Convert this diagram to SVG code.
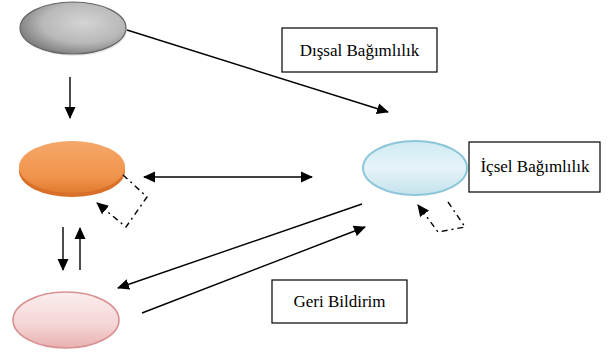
<svg xmlns="http://www.w3.org/2000/svg" width="610" height="355" viewBox="0 0 610 355">
<defs>
<radialGradient id="gGray" cx="0.6" cy="0.4" r="0.65">
<stop offset="0" stop-color="#d4d4d4"/><stop offset="0.6" stop-color="#b8b8b8"/><stop offset="1" stop-color="#7a7a7a"/>
</radialGradient>
<linearGradient id="gOrange" x1="0" y1="0" x2="0" y2="1">
<stop offset="0" stop-color="#f4a86a"/><stop offset="0.7" stop-color="#f0934a"/><stop offset="1" stop-color="#e07a30"/>
</linearGradient>
<linearGradient id="gPink" x1="0" y1="0" x2="0" y2="1">
<stop offset="0" stop-color="#fbeeee"/><stop offset="0.6" stop-color="#f4d4d4"/><stop offset="1" stop-color="#e8b0b0"/>
</linearGradient>
<linearGradient id="gBlue" x1="0" y1="0" x2="0" y2="1">
<stop offset="0" stop-color="#cfeaf3"/><stop offset="0.5" stop-color="#e6f4f9"/><stop offset="1" stop-color="#c4e2ec"/>
</linearGradient>
<marker id="ah" viewBox="0 0 12 12" refX="11" refY="6" markerWidth="12" markerHeight="12" markerUnits="userSpaceOnUse" orient="auto-start-reverse">
<path d="M0,0.5 L12,6 L0,11.5 z" fill="#000"/>
</marker>
<style>
.ln{stroke:#000;stroke-width:1.4;fill:none}
.dash{stroke:#000;stroke-width:1.4;fill:none;stroke-dasharray:6 4 2 4}
.box{fill:#fff;stroke:#000;stroke-width:1.2}
.lbl{font-size:17px;fill:#000;text-anchor:middle}
</style>
</defs>
<g id="node-gray">
<ellipse cx="74" cy="30" rx="53" ry="26" fill="#d8d8d8" opacity="0.5"/>
<ellipse cx="73" cy="28" rx="53" ry="26" fill="url(#gGray)" stroke="#666" stroke-width="1.2"/>
</g>
<g id="node-orange">
<ellipse cx="72" cy="171" rx="53" ry="26" fill="#d8702a"/>
<ellipse cx="72" cy="167" rx="53" ry="26" fill="url(#gOrange)"/>
</g>
<g id="node-blue">
<ellipse cx="415" cy="168" rx="52" ry="27" fill="url(#gBlue)" stroke="#8cc6d8" stroke-width="2"/>
</g>
<g id="node-pink">
<ellipse cx="66" cy="320" rx="53" ry="28" fill="url(#gPink)" stroke="#d89090" stroke-width="1.6"/>
</g>
<g id="label-dissal">
<rect class="box" x="282" y="28" width="155" height="44"/>
<text class="lbl" font-family="'Liberation Serif', 'DejaVu Serif', serif" x="359.5" y="56">Dışsal Bağımlılık</text>
</g>
<g id="label-icsel">
<rect class="box" x="469" y="142" width="131" height="50"/>
<text class="lbl" font-family="'Liberation Serif', 'DejaVu Serif', serif" x="535" y="172">İçsel Bağımlılık</text>
</g>
<g id="label-geri">
<rect class="box" x="272" y="280" width="135" height="43"/>
<text class="lbl" font-family="'Liberation Serif', 'DejaVu Serif', serif" x="339.5" y="307">Geri Bildirim</text>
</g>
<g id="connectors">
<line class="ln" x1="127" y1="30" x2="388" y2="112" marker-end="url(#ah)"/>
<line class="ln" x1="70" y1="77" x2="70" y2="118" marker-end="url(#ah)"/>
<line class="ln" x1="144" y1="177" x2="312" y2="177" marker-start="url(#ah)" marker-end="url(#ah)"/>
<polyline class="dash" points="123,175 147,197 126,227 97,203" marker-end="url(#ah)"/>
<line class="ln" x1="63" y1="227" x2="63" y2="270" marker-end="url(#ah)"/>
<line class="ln" x1="80" y1="270" x2="80" y2="228" marker-end="url(#ah)"/>
<line class="ln" x1="362" y1="204" x2="118" y2="288" marker-end="url(#ah)"/>
<line class="ln" x1="142" y1="313" x2="365" y2="227" marker-end="url(#ah)"/>
<polyline class="dash" points="448,202 465,227 438,232 418,205" marker-end="url(#ah)"/>
</g>
</svg>
